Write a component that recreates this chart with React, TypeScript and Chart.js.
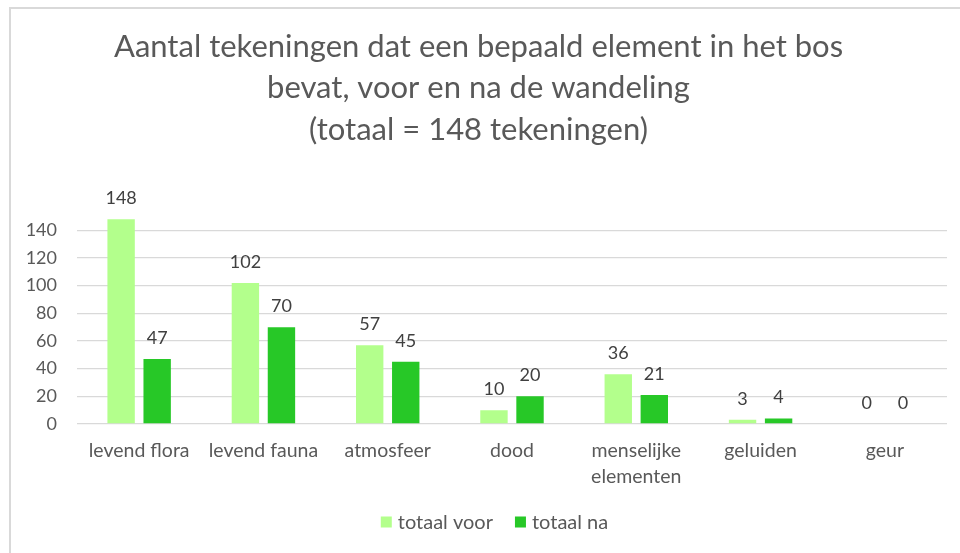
import React, { useEffect, useRef } from "react";
import { Chart, registerables } from "chart.js";

Chart.register(...registerables);

const categories: (string | string[])[] = [
  "levend flora",
  "levend fauna",
  "atmosfeer",
  "dood",
  ["menselijke", "elementen"],
  "geluiden",
  "geur",
];
const totaalVoor = [148, 102, 57, 10, 36, 3, 0];
const totaalNa = [47, 70, 45, 20, 21, 4, 0];
const yTicks = [0, 20, 40, 60, 80, 100, 120, 140];
const titleLines = [
  "Aantal tekeningen dat een bepaald element in het bos",
  "bevat, voor en na de wandeling",
  "(totaal = 148 tekeningen)",
];

const FONT = "Lato, 'Liberation Sans', sans-serif";

const valueLabels = {
  id: "valueLabels",
  afterDatasetsDraw(chart: any) {
    const ctx = chart.ctx;
    ctx.save();
    ctx.font = `18px ${FONT}`;
    ctx.fillStyle = "#404040";
    ctx.textAlign = "center";
    ctx.textBaseline = "alphabetic";
    chart.data.datasets.forEach((ds: any, i: number) => {
      const meta = chart.getDatasetMeta(i);
      meta.data.forEach((el: any, j: number) => {
        ctx.fillText(String(ds.data[j]), el.x, el.y - 15);
      });
    });
    ctx.restore();
  },
};

const bottomLegend = {
  id: "bottomLegend",
  afterDraw(chart: any) {
    const ctx = chart.ctx;
    const box = 11;
    const gap = 6;
    const spacing = 22;
    const centerX = 494.5;
    const centerY = 522;
    ctx.save();
    ctx.font = `20px ${FONT}`;
    ctx.textBaseline = "middle";
    ctx.textAlign = "left";
    const items = chart.data.datasets.map((ds: any) => ({
      text: ds.label,
      color: ds.backgroundColor,
      w: ctx.measureText(ds.label).width,
    }));
    let total = 0;
    items.forEach((it: any, i: number) => {
      total += box + gap + it.w + (i > 0 ? spacing : 0);
    });
    let x = centerX - total / 2;
    items.forEach((it: any) => {
      ctx.fillStyle = it.color;
      ctx.fillRect(x, centerY - box / 2, box, box);
      ctx.fillStyle = "#595959";
      ctx.fillText(it.text, x + box + gap, centerY + 1);
      x += box + gap + it.w + spacing;
    });
    ctx.restore();
  },
};

export default function App() {
  const ref = useRef<HTMLCanvasElement | null>(null);
  useEffect(() => {
    if (!ref.current) return;
    const chart = new Chart(ref.current, {
      type: "bar",
      data: {
        labels: categories,
        datasets: [
          {
            label: "totaal voor",
            data: totaalVoor,
            backgroundColor: "#B3FF8C",
            categoryPercentage: 0.58,
            barPercentage: 0.76,
          },
          {
            label: "totaal na",
            data: totaalNa,
            backgroundColor: "#27C827",
            categoryPercentage: 0.58,
            barPercentage: 0.76,
          },
        ],
      },
      options: {
        responsive: false,
        animation: false,
        layout: { padding: { left: 10, right: 13, top: 0, bottom: 55 } },
        plugins: {
          title: {
            display: true,
            text: titleLines,
            color: "#595959",
            font: { family: FONT, size: 31, weight: "normal", lineHeight: 41.5 / 31 },
            padding: { top: 26, bottom: 66 },
          },
          legend: { display: false },
          tooltip: { enabled: false },
        },
        scales: {
          x: {
            grid: { display: false, drawTicks: false },
            border: { display: false },
            ticks: {
              color: "#595959",
              font: { family: FONT, size: 19.5, lineHeight: 26 / 19.5 },
              padding: 14,
              maxRotation: 0,
              autoSkip: false,
            },
            afterFit(scale: any) {
              scale.height = 74;
            },
          },
          y: {
            min: 0,
            max: 150,
            afterBuildTicks(scale: any) {
              scale.ticks = yTicks.map((v) => ({ value: v }));
            },
            afterFit(scale: any) {
              scale.width = 67;
            },
            grid: { color: "#d9d9d9", lineWidth: 1.3, drawTicks: false },
            border: { display: false },
            ticks: {
              color: "#595959",
              font: { family: FONT, size: 18 },
              padding: 20,
            },
          },
        },
      },
      plugins: [valueLabels, bottomLegend],
    });
    return () => chart.destroy();
  }, []);

  return (
    <div style={{ position: "fixed", left: 0, top: 0, width: 960, height: 553, background: "#fff" }}>
      <canvas ref={ref} width={960} height={553} style={{ position: "absolute", left: 0, top: 0 }} />
      <div
        style={{
          position: "absolute",
          left: 9,
          top: 7,
          width: 951,
          height: 546,
          borderTop: "2px solid #d9d9d9",
          borderLeft: "2px solid #d9d9d9",
          boxSizing: "border-box",
          pointerEvents: "none",
        }}
      />
    </div>
  );
}
